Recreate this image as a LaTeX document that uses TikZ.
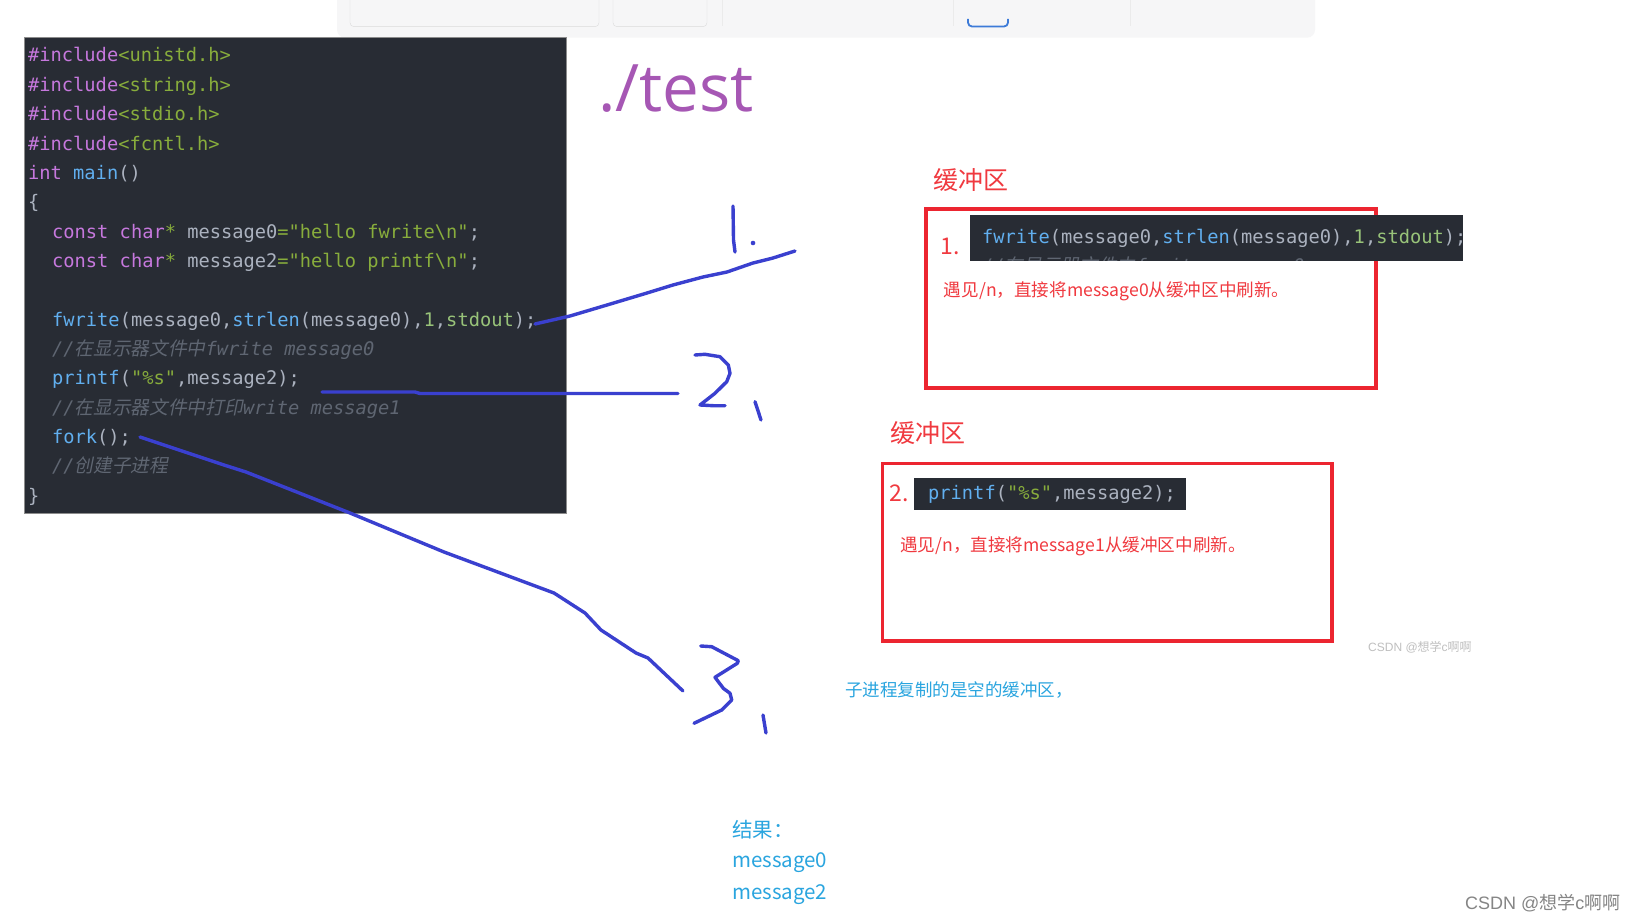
\documentclass[tikz,border=0pt]{standalone}
\usepackage{fontspec}
\setmainfont{Noto Sans CJK SC}
\setmonofont{DejaVu Sans Mono}
\newfontfamily\cjkf{Noto Sans CJK SC}
\newfontfamily\cjkit[FakeSlant=0.2]{Noto Sans CJK SC}
\newfontfamily\arialf{Liberation Sans}
\newfontfamily\titlef{Open Sans}
\definecolor{codebg}{HTML}{282C34}
\definecolor{ckw}{HTML}{C678DD}
\definecolor{cfn}{HTML}{61AFEF}
\definecolor{cst}{HTML}{88AD3C}
\definecolor{cnm}{HTML}{98C379}
\definecolor{cpl}{HTML}{ABB2BF}
\definecolor{ccm}{HTML}{5F6672}
\definecolor{redbox}{HTML}{EC2530}
\definecolor{redtxt}{HTML}{F0393F}
\definecolor{ink}{HTML}{3A40CF}
\definecolor{lblue}{HTML}{2AA5DF}
\definecolor{titlec}{HTML}{A657B4}
\definecolor{bandc}{HTML}{F6F6F7}
\definecolor{tabblue}{HTML}{3D7BD8}
\newcommand\cdkw[1]{\textcolor{ckw}{#1}}
\newcommand\cdfn[1]{\textcolor{cfn}{#1}}
\newcommand\cdst[1]{\textcolor{cst}{#1}}
\newcommand\cdnm[1]{\textcolor{cnm}{#1}}
\newcommand\cdcm[1]{\textcolor{ccm}{\itshape #1}}
\begin{document}
\begin{tikzpicture}[x=1pt,y=-1pt,
  code/.style={anchor=base west, inner sep=0pt, font=\fontsize{18.7}{22}\selectfont\ttfamily, text=cpl},
  redlabel/.style={inner sep=0pt, text=redtxt, font=\cjkf\fontsize{25}{28}\selectfont},
  rednote/.style={anchor=west, inner sep=0pt, text=redtxt, font=\cjkf\fontsize{17.6}{20}\selectfont},
  rednum/.style={inner sep=0pt, text=redtxt, font=\cjkf\fontsize{23}{26}\selectfont},
  bufbox/.style={draw=redbox, line width=3.5pt, inner sep=0pt},
  strip/.style={fill=codebg, inner sep=0pt, anchor=north west},
  bluenote/.style={anchor=west, inner sep=0pt, text=lblue, font=\cjkf\fontsize{17.5}{20}\selectfont},
  result/.style={anchor=west, inner sep=0pt, text=lblue, font=\cjkf\fontsize{20.5}{23}\selectfont},
  scribble/.style={draw=ink, line width=3.4pt, line cap=round, line join=round}]
\useasboundingbox (0,0) rectangle (1637,923);
\fill[white] (0,0) rectangle (1637,923);
% top toolbar remnant
\fill[bandc, rounded corners=8pt] (337,-20) rectangle (1315,37.7);
\draw[black!14, rounded corners=4pt] (350,-10) rectangle (599,26.7);
\draw[black!14, rounded corners=4pt] (613,-10) rectangle (707,26.7);
\draw[black!8] (722,0) -- (722,26);
\draw[black!8] (953,0) -- (953,26);
\draw[black!8] (1130,0) -- (1130,26);
\draw[tabblue, line width=1.8pt, rounded corners=4pt] (968,19) -- (968,26.5) -- (1008,26.5) -- (1008,19);
% code block
\node[fill=codebg, draw=black!45, line width=0.8pt, inner sep=0pt, minimum width=542pt, minimum height=476pt, anchor=north west] (codeblock) at (24,37) {};
\node[code] (l1) at (28,62.0) {\cdkw{\#include}\cdst{<unistd.h>}};
\node[code] (l2) at (28,91.35) {\cdkw{\#include}\cdst{<string.h>}};
\node[code] (l3) at (28,120.7) {\cdkw{\#include}\cdst{<stdio.h>}};
\node[code] (l4) at (28,150.05) {\cdkw{\#include}\cdst{<fcntl.h>}};
\node[code] (l5) at (28,179.4) {\cdkw{int} \cdfn{main}()};
\node[code] (l6) at (28,208.75) {\{};
\node[code] (l7) at (52,238.1) {\cdkw{const char}\cdst{*} message0\cdst{=}\cdst{"hello fwrite\textbackslash n"};};
\node[code] (l8) at (52,267.45) {\cdkw{const char}\cdst{*} message2\cdst{=}\cdst{"hello printf\textbackslash n"};};
\node[code] (l10) at (52,326.15) {\cdfn{fwrite}(message0,\cdfn{strlen}(message0),\cdnm{1},\cdnm{stdout});};
\node[code] (l11) at (52,355.5) {\cdcm{//{\cjkit 在显示器文件中}fwrite message0}};
\node[code] (l12) at (52,384.85) {\cdfn{printf}(\cdst{"\%s"},message2);};
\node[code] (l13) at (52,414.2) {\cdcm{//{\cjkit 在显示器文件中打印}write message1}};
\node[code] (l14) at (52,443.55) {\cdfn{fork}();};
\node[code] (l15) at (52,472.9) {\cdcm{//{\cjkit 创建子进程}}};
\node[code] (l16) at (28,502.25) {\}};
% title
\node[anchor=base west, inner sep=0pt, text=titlec, font=\titlef\fontsize{65.5}{72}\selectfont] (title) at (598,111.5) {./test};
% buffer box 1
\node[redlabel] (lab1) at (971,180) {缓冲区};
\node[bufbox, minimum width=450pt, minimum height=179pt, anchor=north west] (box1) at (924,207) {};
\node[strip, minimum width=493.5pt, minimum height=45.7pt] (strip1) at (969.5,215) {};
\node[code] (s1code) at (982,243.2) {\cdfn{fwrite}(message0,\cdfn{strlen}(message0),\cdnm{1},\cdnm{stdout});};
\begin{scope}
\clip (969.5,215) rectangle (1463,260.7);
\node[code] (s1cm) at (982,272.5) {\cdcm{//{\cjkit 在显示器文件中}fwrite message0}};
\end{scope}
\node[rednum] (n1) at (950,246.7) {1.};
\node[rednote] (t1) at (943.7,291) {遇见/n，直接将message0从缓冲区中刷新。};
% buffer box 2
\node[redlabel] (lab2) at (927.5,433) {缓冲区};
\node[bufbox, minimum width=449.3pt, minimum height=177.3pt, anchor=north west] (box2) at (880.7,461.7) {};
\node[strip, minimum width=272pt, minimum height=32pt] (strip2) at (914,478) {};
\node[code] (s2code) at (928,499.5) {\cdfn{printf}(\cdst{"\%s"},message2);};
\node[rednum] (n2) at (899.5,493) {2.};
\node[rednote] (t2) at (900,546) {遇见/n，直接将message1从缓冲区中刷新。};
% notes
\node[bluenote] (child) at (845,690) {子进程复制的是空的缓冲区，};
\node[result] (res) at (732,830) {结果：};
\node[result] (m0) at (732,863) {message0};
\node[result] (m2) at (732,895) {message2};
% watermarks
\node[anchor=west, inner sep=0pt, text=black!25, font=\arialf\fontsize{12}{14}\selectfont] (wm1) at (1368,647) {CSDN @{\cjkf 想学}c{\cjkf 啊啊}};
\node[anchor=west, inner sep=0pt, text=black!48, font=\arialf\fontsize{18}{20}\selectfont] (wm2) at (1465,903) {CSDN @{\cjkf 想学}c{\cjkf 啊啊}};
% hand-drawn scribbles
\coordinate (a1) at (535,324);
\coordinate (b1) at (795,251);
\coordinate (a2) at (322,392);
\coordinate (b2) at (678,393.5);
\coordinate (a3) at (140,437);
\coordinate (b3) at (683,691);
\draw[scribble] (a1) -- (570,316) -- (607,305) -- (647,293) -- (673,285) -- (703,277) -- (727,272) -- (753,263) -- (773,258) -- (b1);
\draw[scribble] (733,206) -- (733.5,240) -- (735,252);
\fill[ink] (753,243) circle (2.3pt);
\draw[scribble] (a2) -- (415,392) -- (420,393.5) -- (b2);
\draw[scribble] (695,355) -- (705,354.3) -- (720,356.7) -- (728.3,365) -- (730,373.3) -- (726.7,381.7) -- (715,393.3) -- (700,405) -- (713.3,405.7) -- (725,405.7);
\draw[scribble] (755,401.7) -- (761,420);
\draw[scribble] (a3) -- (224,465) -- (246,472) -- (350,513) -- (444,552) -- (554,593) -- (585,613) -- (601,630) -- (636,653) -- (648,658) -- (b3);
\draw[scribble] (700.7,646) -- (711.7,646.7) -- (738.3,660.7) -- (737.3,663.3) -- (715,677.3) -- (723.3,688.3) -- (730,693.3) -- (731.7,700) -- (721.7,710) -- (694,723.3);
\draw[scribble] (763,715) -- (766,733);
\end{tikzpicture}
\end{document}
